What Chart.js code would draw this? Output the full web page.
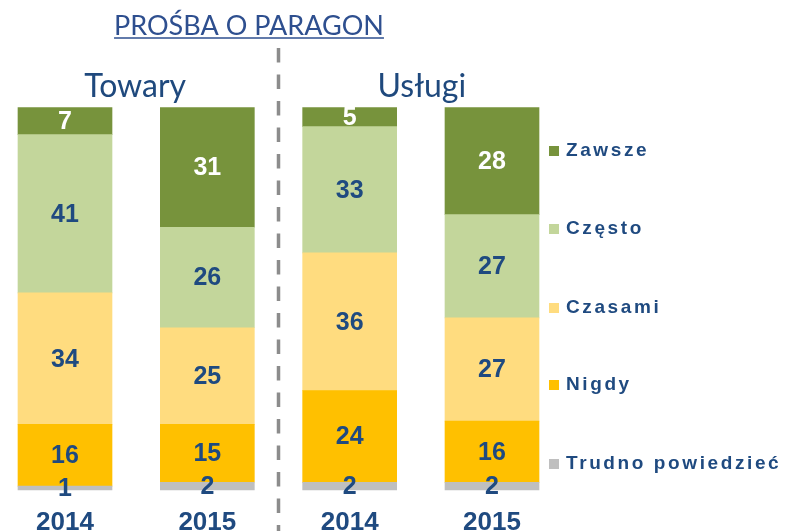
<!DOCTYPE html>
<html>
<head>
<meta charset="utf-8">
<script src="https://cdn.jsdelivr.net/npm/chart.js@4.4.1/dist/chart.umd.min.js"></script>
<style>
html,body{margin:0;padding:0;background:#fff;overflow:hidden;width:786px;height:531px;}
#wrap{position:absolute;left:0;top:0;width:786px;height:560px;}
</style>
</head>
<body>
<div id="wrap"><canvas id="c" width="786" height="560"></canvas></div>
<script>
// ---- data ----
const chartTitle = 'PROŚBA O PARAGON';
const groups = ['Towary', 'Usługi'];
const categories = ['2014', '2015', '2014', '2015'];
const seriesNames = ['Zawsze', 'Często', 'Czasami', 'Nigdy', 'Trudno powiedzieć'];
const zawsze  = [7, 31, 5, 28];
const czesto  = [41, 26, 33, 27];
const czasami = [34, 25, 36, 27];
const nigdy   = [16, 15, 24, 16];
const trudno  = [1, 2, 2, 2];
const seriesColors = ['#77933C', '#C3D69B', '#FFDC7F', '#FFC000', '#BFBFBF'];
const labelColors  = ['#FFFFFF', '#1F4A80', '#1F4A80', '#1F4A80', '#1F4A80'];

const seriesValues = [zawsze, czesto, czasami, nigdy, trudno];
const totals = categories.map((_, i) => seriesValues.reduce((s, arr) => s + arr[i], 0));

// stacked bottom-up: Trudno, Nigdy, Czasami, Często, Zawsze (100% stacked)
const datasets = seriesNames.map((name, k) => ({
  label: name,
  raw: seriesValues[k],
  data: seriesValues[k].map((v, i) => v / totals[i] * 100),
  backgroundColor: seriesColors[k],
  labelColor: labelColors[k],
  borderWidth: 0,
  barThickness: 94,
  clip: false
})).reverse();

const TEXT = '#1F4A80';

const overlay = {
  id: 'overlay',
  afterDatasetsDraw(chart) {
    const ctx = chart.ctx;
    const xs = chart.scales.x;
    // data labels
    ctx.save();
    ctx.font = 'bold 25px "Liberation Sans", Arial, sans-serif';
    ctx.textAlign = 'center';
    ctx.textBaseline = 'middle';
    chart.data.datasets.forEach((ds, di) => {
      const meta = chart.getDatasetMeta(di);
      meta.data.forEach((el, i) => {
        const y = (el.y + el.base) / 2 + 1;
        ctx.fillStyle = ds.labelColor;
        ctx.fillText(String(ds.raw[i]), el.x, y);
      });
    });
    ctx.restore();

    // title
    ctx.save();
    ctx.fillStyle = '#2E4F8F';
    ctx.font = '27px Lato, "Open Sans", sans-serif';
    ctx.textAlign = 'center';
    ctx.textBaseline = 'alphabetic';
    const tx = 249;
    ctx.fillText(chartTitle, tx, 35);
    const tw = ctx.measureText(chartTitle).width;
    ctx.strokeStyle = '#2E4F8F';
    ctx.lineWidth = 1.5;
    ctx.beginPath();
    ctx.moveTo(tx - tw / 2, 38);
    ctx.lineTo(tx + tw / 2, 38);
    ctx.stroke();

    // group labels centred over pairs of bars
    ctx.fillStyle = '#1F497D';
    ctx.font = '32px Lato, "Open Sans", sans-serif';
    groups.forEach((g, gi) => {
      const cx = (xs.getPixelForValue(gi * 2) + xs.getPixelForValue(gi * 2 + 1)) / 2;
      ctx.fillText(g, cx - 1 + gi * 2, 97);
    });

    // dashed separator
    const sx = (xs.getPixelForValue(1) + xs.getPixelForValue(2)) / 2;
    ctx.strokeStyle = '#8C8C8C';
    ctx.lineWidth = 3.5;
    ctx.setLineDash([14.5, 12]);
    ctx.beginPath();
    ctx.moveTo(sx, 48);
    ctx.lineTo(sx, 540);
    ctx.stroke();
    ctx.setLineDash([]);

    // legend
    const legY = [150, 228, 307, 384, 463];
    ctx.font = 'bold 19px "Liberation Sans", Arial, sans-serif';
    ctx.textAlign = 'left';
    ctx.textBaseline = 'middle';
    try { ctx.letterSpacing = '2.6px'; } catch (e) {}
    seriesNames.forEach((n, k) => {
      ctx.fillStyle = seriesColors[k];
      ctx.fillRect(549, legY[k] - 4, 10, 10);
      ctx.fillStyle = TEXT;
      ctx.fillText(n, 566, legY[k] + 1);
    });
    ctx.restore();
  }
};

new Chart(document.getElementById('c'), {
  type: 'bar',
  data: { labels: categories, datasets },
  options: {
    responsive: false,
    animation: false,
    devicePixelRatio: 1,
    layout: { padding: { left: 65, right: 294, top: 107.5, bottom: 4.8 } },
    plugins: { legend: { display: false }, tooltip: { enabled: false }, title: { display: false } },
    scales: {
      x: {
        stacked: true,
        offset: false,
        grid: { display: false, drawTicks: false },
        border: { display: false },
        ticks: {
          color: TEXT,
          font: { family: '"Liberation Sans", Arial, sans-serif', size: 26, weight: 'bold' },
          padding: 17,
          maxRotation: 0,
          autoSkip: false
        }
      },
      y: {
        stacked: true,
        display: false,
        min: 0,
        max: 100
      }
    }
  },
  plugins: [overlay]
});
</script>
</body>
</html>
